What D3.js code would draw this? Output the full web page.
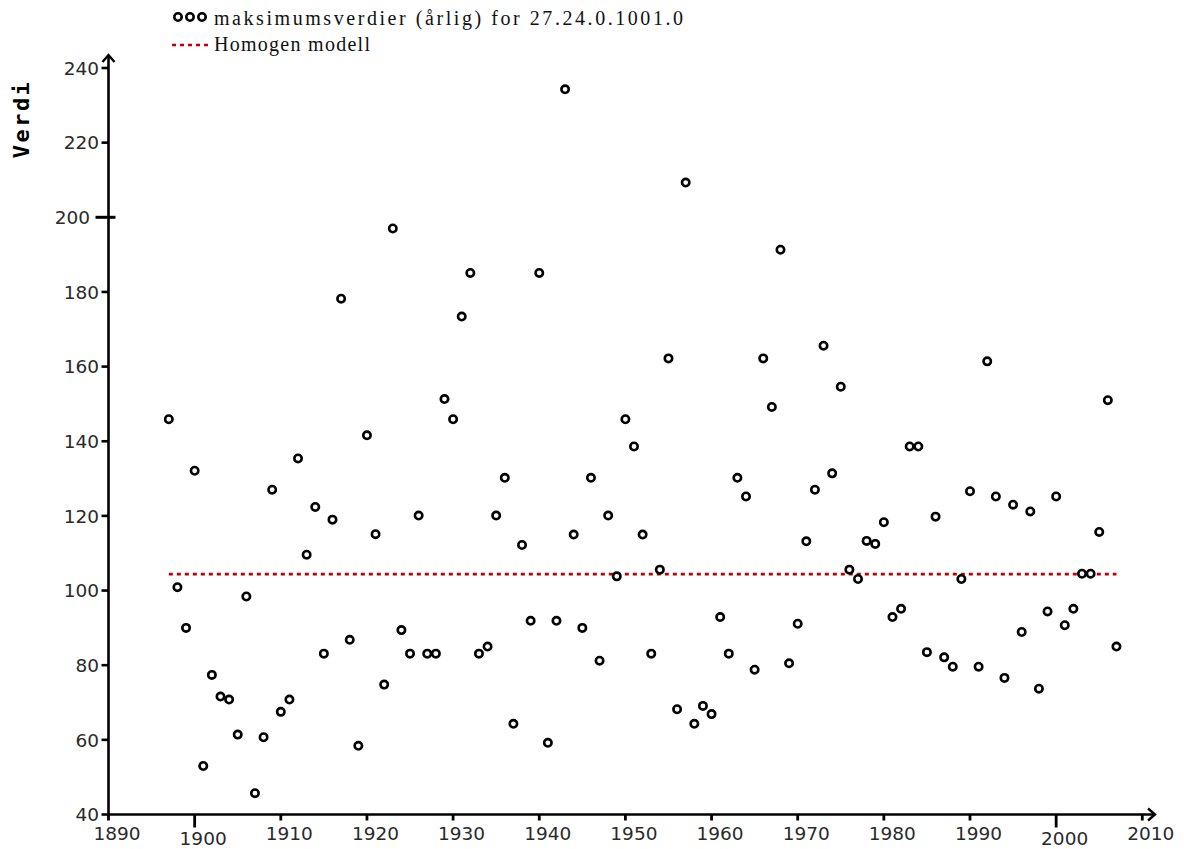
<!DOCTYPE html>
<html>
<head>
<meta charset="utf-8">
<script src="https://cdn.jsdelivr.net/npm/d3@7"></script>
<style>
  html, body { margin: 0; padding: 0; background: #fff; }
  svg { display: block; }
</style>
</head>
<body>
<svg id="chart" width="1184" height="849"></svg>
<script>
const years = [
  1897,1898,1899,1900,1901,1902,1903,1904,1905,1906,1907,1908,1909,1910,1911,1912,1913,1914,1915,1916,
  1917,1918,1919,1920,1921,1922,1923,1924,1925,1926,1927,1928,1929,1930,1931,1932,1933,1934,1935,1936,
  1937,1938,1939,1940,1941,1942,1943,1944,1945,1946,1947,1948,1949,1950,1951,1952,1953,1954,1955,1956,
  1957,1958,1959,1960,1961,1962,1963,1964,1965,1966,1967,1968,1969,1970,1971,1972,1973,1974,1975,1976,
  1977,1978,1979,1980,1981,1982,1983,1984,1985,1986,1987,1988,1989,1990,1991,1992,1993,1994,1995,1996,
  1997,1998,1999,2000,2001,2002,2003,2004,2005,2006,2007
];
const maxValues = [
  145.9,100.9,90.0,132.1,53.0,77.4,71.6,70.8,61.4,98.4,45.7,60.7,127.0,67.5,70.8,135.4,109.6,122.4,83.1,119.0,
  178.2,86.8,58.4,141.6,115.1,74.8,197.0,89.4,83.1,120.1,83.1,83.1,151.3,145.9,173.4,185.1,83.1,85.0,120.1,130.2,
  64.3,112.2,91.9,185.1,59.2,91.9,234.3,115.0,90.0,130.2,81.2,120.1,103.8,145.9,138.6,115.0,83.1,105.6,162.2,68.2,
  209.3,64.3,69.1,66.9,92.9,83.1,130.2,125.2,78.8,162.2,149.2,191.3,80.5,91.1,113.2,127.0,165.6,131.4,154.6,105.6,
  103.1,113.3,112.5,118.3,92.9,95.1,138.6,138.6,83.5,119.8,82.1,79.6,103.1,126.6,79.6,161.4,125.2,76.6,123.0,88.9,
  121.2,73.7,94.4,125.2,90.7,95.1,104.5,104.5,115.7,151.0,85.0
];
const homogenValue = 104.4;
const xTicks = [1890,1900,1910,1920,1930,1940,1950,1960,1970,1980,1990,2000,2010];
const xMajorTicks = [1900, 2000];
const yTicks = [40,60,80,100,120,140,160,180,200,220,240];
const yMajorTicks = [200];
const legendLabels = ["maksimumsverdier (årlig) for 27.24.0.1001.0", "Homogen modell"];
const yTitle = "Verdi";

const svg = d3.select("#chart");
const x = d3.scaleLinear().domain([1890, 2010]).range([108.5, 1142.3]);
const y = d3.scaleLinear().domain([40, 240]).range([814.5, 68]);

const axisColor = "#000";
const tickFont = "'DejaVu Sans', Verdana, sans-serif";

// Axes lines
const g = svg.append("g");
g.append("line").attr("x1", x(1890)).attr("x2", 1155).attr("y1", y(40)).attr("y2", y(40))
  .attr("stroke", axisColor).attr("stroke-width", 2.6);
g.append("path").attr("d", `M${1148},${y(40)-6} L${1155},${y(40)} L${1148},${y(40)+6}`)
  .attr("fill", "none").attr("stroke", axisColor).attr("stroke-width", 2.4);
g.append("line").attr("x1", x(1890)).attr("x2", x(1890)).attr("y1", y(40)+1).attr("y2", 55)
  .attr("stroke", axisColor).attr("stroke-width", 2.6);
g.append("path").attr("d", `M${x(1890)-6},${62} L${x(1890)},${55} L${x(1890)+6},${62}`)
  .attr("fill", "none").attr("stroke", axisColor).attr("stroke-width", 2.4);

// Y ticks
yTicks.forEach(v => {
  const major = yMajorTicks.includes(v);
  g.append("line")
    .attr("x1", major ? x(1890) - 13 : x(1890) - 7).attr("x2", major ? x(1890) + 7 : x(1890))
    .attr("y1", y(v)).attr("y2", y(v))
    .attr("stroke", axisColor).attr("stroke-width", major ? 3 : 2.6);
  g.append("text")
    .attr("x", major ? 90 : 99).attr("y", y(v)).attr("dy", "0.36em")
    .attr("text-anchor", "end")
    .attr("font-family", tickFont).attr("font-size", 18.5).attr("fill", "#2a2a2a")
    .text(v);
});

// X ticks
xTicks.forEach(v => {
  const major = xMajorTicks.includes(v);
  g.append("line")
    .attr("x1", x(v)).attr("x2", x(v))
    .attr("y1", y(40)).attr("y2", y(40) + (major ? 13 : 6))
    .attr("stroke", axisColor).attr("stroke-width", 2.8);
  g.append("text")
    .attr("x", x(v) + 8.5).attr("y", major ? 845 : 840)
    .attr("text-anchor", "middle")
    .attr("font-family", tickFont).attr("font-size", 18.5).attr("fill", "#2a2a2a")
    .text(v);
});

// Y title
svg.append("text")
  .attr("transform", "translate(29,119) rotate(-90)")
  .attr("text-anchor", "middle")
  .attr("font-family", "'DejaVu Sans Mono', monospace").attr("font-weight", "bold")
  .attr("font-size", 22).attr("letter-spacing", 2.5).attr("fill", "#000")
  .text(yTitle);

// Homogen modell line
svg.append("line")
  .attr("x1", x(years[0])).attr("x2", x(years[years.length - 1]))
  .attr("y1", y(homogenValue)).attr("y2", y(homogenValue))
  .attr("stroke", "#c00000").attr("stroke-width", 2.6).attr("stroke-dasharray", "4,4");

// Points
svg.append("g").selectAll("circle")
  .data(years.map((yr, i) => ({ yr, v: maxValues[i] })))
  .join("circle")
  .attr("cx", d => x(d.yr)).attr("cy", d => y(d.v))
  .attr("r", 3.7)
  .attr("fill", "#fff").attr("stroke", "#000").attr("stroke-width", 2.6);

// Legend
const legend = svg.append("g");
[178, 190, 202].forEach(cx => {
  legend.append("circle").attr("cx", cx).attr("cy", 17).attr("r", 3.7)
    .attr("fill", "#fff").attr("stroke", "#000").attr("stroke-width", 2.6);
});
legend.append("line").attr("x1", 172).attr("x2", 210).attr("y1", 45).attr("y2", 45)
  .attr("stroke", "#c00000").attr("stroke-width", 2.6).attr("stroke-dasharray", "4,4");
legend.append("text").attr("x", 214).attr("y", 25)
  .attr("font-family", "'Liberation Serif', serif").attr("font-size", 20).attr("fill", "#111")
  .attr("textLength", 469).attr("lengthAdjust", "spacing")
  .text(legendLabels[0]);
legend.append("text").attr("x", 214).attr("y", 51)
  .attr("font-family", "'Liberation Serif', serif").attr("font-size", 20).attr("fill", "#111")
  .attr("textLength", 156).attr("lengthAdjust", "spacing")
  .text(legendLabels[1]);
</script>
</body>
</html>
